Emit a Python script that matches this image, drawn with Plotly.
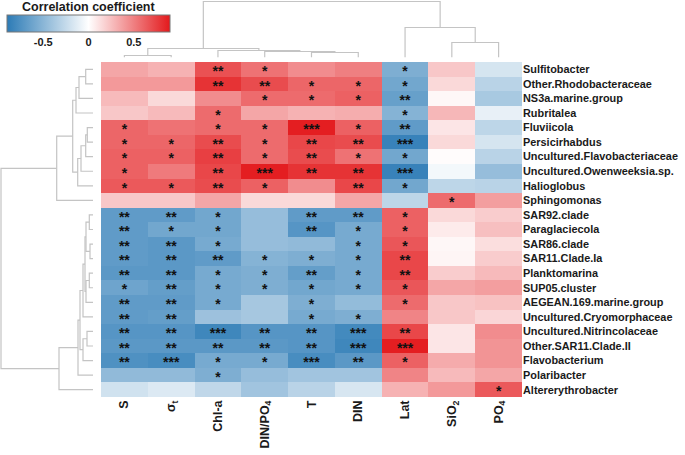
import numpy as np
import plotly.graph_objects as go

# rows (taxa) in clustered order, columns (environmental factors) in clustered order
taxa = [
    "Sulfitobacter", "Other.Rhodobacteraceae", "NS3a.marine.group", "Rubritalea",
    "Fluviicola", "Persicirhabdus", "Uncultured.Flavobacteriaceae",
    "Uncultured.Owenweeksia.sp.", "Halioglobus", "Sphingomonas", "SAR92.clade",
    "Paraglaciecola", "SAR86.clade", "SAR11.Clade.Ia", "Planktomarina",
    "SUP05.cluster", "AEGEAN.169.marine.group", "Uncultured.Cryomorphaceae",
    "Uncultured.Nitrincolaceae", "Other.SAR11.Clade.II", "Flavobacterium",
    "Polaribacter", "Altererythrobacter",
]
factors = ["S", "σ<sub>t</sub>", "Chl-a", "DIN/PO<sub>4</sub>", "T", "DIN", "Lat",
           "SiO<sub>2</sub>", "PO<sub>4</sub>"]

# correlation coefficients, one list per factor (top to bottom)
r_S = [0.35, 0.40, 0.27, 0.22, 0.60, 0.60, 0.62, 0.62, 0.65, 0.22, -0.68, -0.68,
       -0.68, -0.68, -0.70, -0.62, -0.68, -0.68, -0.72, -0.70, -0.75, -0.47, -0.20]
r_sigma = [0.30, 0.40, 0.15, 0.27, 0.55, 0.60, 0.62, 0.52, 0.65, 0.22, -0.68, -0.60,
           -0.70, -0.70, -0.70, -0.66, -0.68, -0.66, -0.72, -0.70, -0.78, -0.47, -0.15]
r_chla = [0.68, 0.80, 0.45, 0.58, 0.58, 0.70, 0.75, 0.72, 0.70, 0.35, -0.60, -0.60,
          -0.58, -0.68, -0.58, -0.58, -0.58, -0.42, -0.82, -0.70, -0.58, -0.55, -0.27]
r_dinpo4 = [0.55, 0.70, 0.58, 0.35, 0.58, 0.58, 0.58, 0.88, 0.62, 0.15, -0.45, -0.45,
            -0.45, -0.52, -0.55, -0.55, -0.38, -0.38, -0.72, -0.70, -0.58, -0.45, -0.40]
r_T = [0.45, 0.60, 0.58, 0.30, 0.88, 0.72, 0.70, 0.80, 0.45, 0.15, -0.68, -0.72,
       -0.47, -0.55, -0.66, -0.60, -0.55, -0.58, -0.72, -0.72, -0.78, -0.40, -0.30]
r_DIN = [0.50, 0.60, 0.62, 0.32, 0.62, 0.70, 0.55, 0.80, 0.72, 0.35, -0.68, -0.58,
         -0.58, -0.58, -0.58, -0.58, -0.46, -0.55, -0.80, -0.82, -0.70, -0.40, -0.17]
r_Lat = [-0.55, -0.60, -0.65, -0.52, -0.68, -0.85, -0.60, -0.85, -0.60, -0.28, 0.62,
         0.62, 0.66, 0.72, 0.72, 0.66, 0.58, 0.48, 0.72, 0.88, 0.62, 0.48, 0.30]
r_SiO2 = [0.22, 0.15, 0.03, 0.28, 0.10, 0.15, 0.01, -0.05, -0.28, 0.58, 0.15, 0.08,
          0.03, 0.04, 0.20, 0.35, 0.22, 0.22, 0.10, 0.10, 0.33, 0.27, 0.40]
r_PO4 = [-0.18, -0.30, -0.37, -0.10, -0.28, -0.18, -0.30, -0.45, -0.30, 0.38, 0.20,
         0.25, 0.13, 0.20, 0.27, 0.38, 0.24, 0.16, 0.45, 0.42, 0.42, 0.35, 0.65]

# significance marks
p_S = ["", "", "", "", "*", "*", "*", "*", "*", "", "**", "**", "**", "**", "**", "*",
       "**", "**", "**", "**", "**", "", ""]
p_sigma = ["", "", "", "", "", "*", "*", "", "*", "", "**", "*", "**", "**", "**", "**",
           "**", "**", "**", "**", "***", "", ""]
p_chla = ["**", "**", "", "*", "*", "**", "**", "**", "**", "", "*", "*", "*", "**", "*",
          "*", "*", "", "***", "**", "*", "*", ""]
p_dinpo4 = ["*", "**", "*", "", "*", "*", "*", "***", "*", "", "", "", "", "*", "*", "*",
            "", "", "**", "**", "*", "", ""]
p_T = ["", "*", "*", "", "***", "**", "**", "**", "", "", "**", "**", "", "*", "**", "*",
       "*", "*", "**", "**", "***", "", ""]
p_DIN = ["", "*", "*", "", "*", "**", "*", "**", "**", "", "**", "*", "*", "*", "*", "*",
         "", "*", "***", "***", "**", "", ""]
p_Lat = ["*", "*", "**", "*", "**", "***", "*", "***", "*", "", "*", "*", "*", "**", "**",
         "*", "*", "", "**", "***", "*", "", ""]
p_SiO2 = [""] * 9 + ["*"] + [""] * 13
p_PO4 = [""] * 22 + ["*"]

# dendrogram merges: (child a, child b, height); ids >= n are earlier merges
row_merges = [
    (0, 1, 7.3), (23, 2, 14), (24, 3, 17), (4, 5, 5.7), (26, 6, 7.3), (27, 7, 12),
    (28, 8, 15.3), (25, 29, 20.3), (30, 9, 36.3), (10, 11, 3.7), (12, 13, 3),
    (32, 33, 7), (14, 15, 3.7), (35, 16, 7), (34, 36, 8), (37, 17, 10), (18, 19, 6),
    (39, 20, 10), (38, 40, 13), (41, 21, 15), (42, 22, 34), (31, 43, 92),
]
col_merges = [
    (0, 1, 2), (4, 5, 5), (3, 10, 6), (2, 11, 7), (9, 12, 9), (7, 8, 15),
    (6, 14, 30), (13, 15, 56),
]

z = np.column_stack([r_S, r_sigma, r_chla, r_dinpo4, r_T, r_DIN, r_Lat, r_SiO2, r_PO4])
stars = np.column_stack([p_S, p_sigma, p_chla, p_dinpo4, p_T, p_DIN, p_Lat, p_SiO2, p_PO4])
nr, nc = z.shape


def dendro_segments(merges, n):
    pos = {i: float(i) for i in range(n)}
    hgt = {i: 0.0 for i in range(n)}
    p_all, h_all = [], []
    for k, (a, b, h) in enumerate(merges):
        p_all += [pos[a], pos[a], pos[b], pos[b], None]
        h_all += [hgt[a], h, h, hgt[b], None]
        pos[n + k] = (pos[a] + pos[b]) / 2
        hgt[n + k] = h
    return p_all, h_all


W, H = 685, 455
hx0, hx1 = 101 / W, 522 / W
hy0, hy1 = 1 - 397 / H, 1 - 62 / H

colorscale = [[0, "#2c7bb6"], [0.5, "#ffffff"], [1, "#e3191c"]]
dark = "#1a1a1a"
lab_font = dict(family="Liberation Sans", size=10.9, color=dark, weight="bold")

fig = go.Figure()
fig.add_trace(go.Heatmap(
    z=z, x=list(range(nc)), y=list(range(nr)),
    colorscale=colorscale, zmin=-0.9, zmax=0.9,
    xgap=0, ygap=0, hoverinfo="skip",
    colorbar=dict(
        orientation="h", x=88.5 / W, xanchor="center", y=1 - 15 / H, yanchor="top",
        len=163 / W, lenmode="fraction", thickness=17,
        outlinecolor="#777777", outlinewidth=1, xpad=0, ypad=0,
        tickvals=[-0.5, 0, 0.5], ticktext=["-0.5", "0", "0.5"], ticks="",
        tickfont=dict(family="Liberation Sans", size=11, color=dark, weight="bold"),
    ),
))

# significance marks at cell centres (asterisks sit high in the glyph box)
sr, sc = np.nonzero(stars != "")
fig.add_trace(go.Scatter(
    x=sc, y=sr + 0.22, text=stars[sr, sc], mode="text", textposition="middle center",
    textfont=dict(family="Liberation Sans", size=14, color="#111111", weight="bold"),
    hoverinfo="skip", showlegend=False,
))

rp, rh = dendro_segments(row_merges, nr)
fig.add_trace(go.Scatter(x=rh, y=rp, mode="lines", xaxis="x2", yaxis="y2",
                         line=dict(color="#c4c4c4", width=1.2), hoverinfo="skip",
                         showlegend=False))
cp, ch = dendro_segments(col_merges, nc)
fig.add_trace(go.Scatter(x=cp, y=ch, mode="lines", xaxis="x3", yaxis="y3",
                         line=dict(color="#c4c4c4", width=1.2), hoverinfo="skip",
                         showlegend=False))

fig.add_annotation(text="Correlation coefficient", x=88 / W, y=1 - 7 / H,
                   xref="paper", yref="paper", showarrow=False,
                   xanchor="center", yanchor="middle", borderpad=0,
                   font=dict(family="Liberation Sans", size=12.5, color=dark,
                             weight="bold"))

fig.update_layout(
    width=W, height=H, margin=dict(l=0, r=0, t=0, b=0),
    paper_bgcolor="white", plot_bgcolor="white", showlegend=False,
    xaxis=dict(domain=[hx0, hx1], range=[-0.5, nc - 0.5], tickvals=list(range(nc)),
               ticktext=factors, tickangle=-90, showgrid=False, zeroline=False,
               showline=False, ticks="", automargin=False,
               tickfont=dict(family="Liberation Sans", size=12.5, color=dark,
                             weight="bold")),
    yaxis=dict(domain=[hy0, hy1], range=[nr - 0.5, -0.5], tickvals=list(range(nr)),
               ticktext=taxa, side="right", showgrid=False, zeroline=False,
               showline=False, ticks="", automargin=False, tickfont=lab_font),
    xaxis2=dict(domain=[0, 93 / W], range=[93, 0], visible=False),
    yaxis2=dict(domain=[hy0, hy1], range=[nr - 0.5, -0.5], visible=False),
    xaxis3=dict(domain=[hx0, hx1], range=[-0.5, nc - 0.5], visible=False),
    yaxis3=dict(domain=[1 - 57.5 / H, 1], range=[0, 57.5], visible=False),
)

# the page body has a default 8px margin; drop it so the figure sits at the corner
fig.write_html("out.html", config={"displayModeBar": False},
               post_script="document.body.style.margin = '0';")
